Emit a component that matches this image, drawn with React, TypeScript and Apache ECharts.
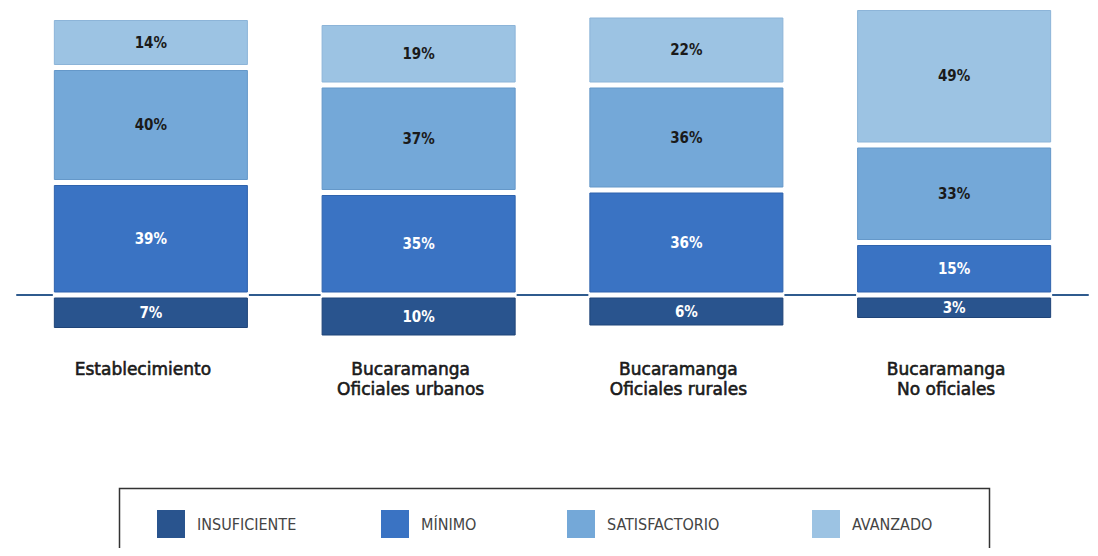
import React, { useEffect, useRef } from "react";
import * as echarts from "echarts";

const categories = [
  "Establecimiento",
  "Bucaramanga\nOficiales urbanos",
  "Bucaramanga\nOficiales rurales",
  "Bucaramanga\nNo oficiales",
];
const levelNames = ["INSUFICIENTE", "MÍNIMO", "SATISFACTORIO", "AVANZADO"];
const insuficiente = [7, 10, 6, 3];
const minimo = [39, 35, 36, 15];
const satisfactorio = [40, 37, 36, 33];
const avanzado = [14, 19, 22, 49];

const colors = ["#29548e", "#3a73c3", "#74a8d8", "#9cc3e3"];
const strokes = ["#1f4478", "#2f63ad", "#6598c9", "#8cb4d8"];
const labelColors = ["#ffffff", "#ffffff", "#1a1a1a", "#1a1a1a"];
const legendLefts = [152, 376, 562, 807];
const condensed = "'DejaVu Sans Condensed', 'Liberation Sans Narrow', sans-serif";

export default function App() {
  const ref = useRef<HTMLDivElement>(null);
  useEffect(() => {
    if (!ref.current) return;
    const chart = echarts.init(ref.current, null, { renderer: "svg" });
    const above = [minimo, satisfactorio, avanzado];

    const makeSeries = (levelIdx: number) => {
      let data: number[][];
      if (levelIdx === 0) {
        data = insuficiente.map((v, i) => [i, 0, -v, v]);
      } else {
        const k = levelIdx - 1;
        data = categories.map((_, i) => {
          let start = 0;
          for (let j = 0; j < k; j++) start += above[j][i];
          const v = above[k][i];
          return [i, start, start + v, v];
        });
      }
      return {
        type: "custom",
        name: levelNames[levelIdx],
        itemStyle: { color: colors[levelIdx] },
        clip: false,
        data,
        renderItem: (params: any, api: any) => {
          const cat = api.value(0);
          const start = api.value(1);
          const end = api.value(2);
          const v = api.value(3);
          const bw = api.size([1, 0])[0] * 0.721;
          const x = api.coord([cat, 0])[0] - bw / 2;
          let yTop: number, yBot: number;
          if (levelIdx === 0) {
            yTop = api.coord([cat, 0])[1] + 3;
            yBot = api.coord([cat, end])[1] + 15;
          } else {
            const k = levelIdx - 1;
            yBot = api.coord([cat, start])[1] - 3 - 15 * k;
            yTop = api.coord([cat, end])[1] - 12 - 15 * k;
          }
          const children: any[] = [];
          if (levelIdx === 0) {
            const y0 = api.coord([cat, 0])[1];
            children.push({
              type: "rect",
              shape: { x: x - 1.5, y: y0 - 3, width: bw + 3, height: 6 },
              style: { fill: "#ffffff" },
            });
          }
          children.push({
            type: "rect",
            shape: { x, y: yTop, width: bw, height: yBot - yTop },
            style: { fill: colors[levelIdx], stroke: strokes[levelIdx], lineWidth: 1 },
            textContent: {
              style: {
                text: v + "%",
                fill: labelColors[levelIdx],
                fontFamily: condensed,
                fontSize: 15,
                fontWeight: "bold",
              },
            },
            textConfig: { position: "inside" },
          });
          return { type: "group", children };
        },
      };
    };

    chart.setOption({
      animation: false,
      grid: { left: 17, right: 10, top: 45, height: 310 },
      xAxis: [
        {
          type: "category",
          data: categories,
          axisLine: { show: false },
          axisTick: { show: false },
          axisLabel: {
            margin: 4,
            color: "#1a1a1a",
            fontFamily: "'DejaVu Sans', sans-serif",
            fontSize: 17,
            lineHeight: 20,
            textBorderColor: "#1a1a1a",
            textBorderWidth: 0.6,
            padding: [0, 16, 0, 0],
          },
        },
        {
          type: "category",
          data: categories,
          position: "bottom",
          axisLine: {
            show: true,
            onZero: true,
            onZeroAxisIndex: 0,
            lineStyle: { color: "#2f5b8e", width: 2 },
          },
          axisTick: { show: false },
          axisLabel: { show: false },
        },
      ],
      yAxis: {
        type: "value",
        min: -24,
        max: 100,
        show: false,
      },
      legend: levelNames.map((name, i) => ({
        left: legendLefts[i],
        top: 505,
        itemWidth: 28,
        itemHeight: 28,
        icon: "rect",
        data: [name],
        textStyle: {
          color: "#444",
          fontFamily: condensed,
          fontSize: 16,
          padding: [0, 0, 0, 7],
        },
      })),
      graphic: [
        {
          type: "rect",
          left: 117,
          top: 486,
          shape: { width: 870, height: 90 },
          style: { fill: "none", stroke: "#333", lineWidth: 1.5 },
          z: -1,
        },
      ],
      series: [0, 1, 2, 3].map(makeSeries),
    });
    return () => chart.dispose();
  }, []);
  return <div ref={ref} style={{ width: 1098, height: 556, margin: -8 }} />;
}
